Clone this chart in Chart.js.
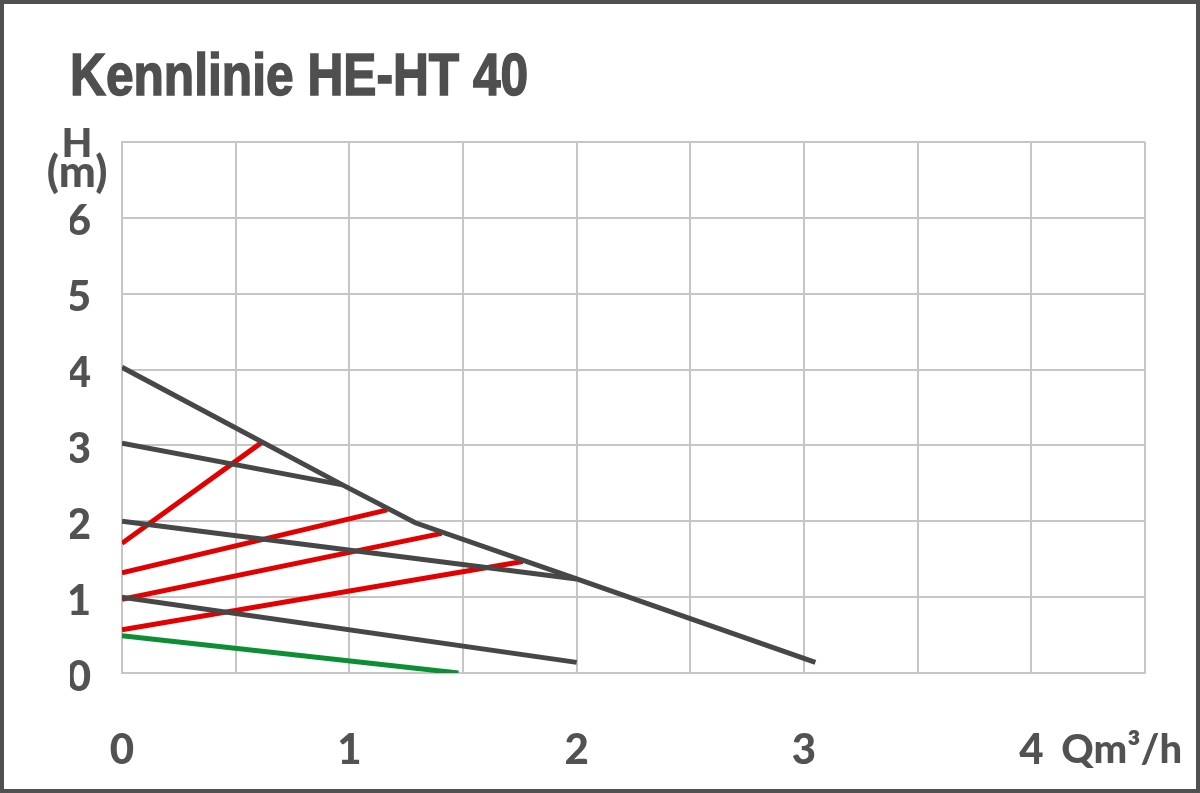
<!DOCTYPE html>
<html>
<head>
<meta charset="utf-8">
<title>Kennlinie HE-HT 40</title>
<script src="https://cdn.jsdelivr.net/npm/chart.js@4.4.1/dist/chart.umd.min.js"></script>
<style>
  html, body { margin: 0; padding: 0; background: #fff; }
  #wrap { position: relative; width: 1200px; height: 793px; overflow: hidden; }
  #title {
    position: absolute; left: 70px; top: 45px;
    font: bold 60px "Liberation Sans", Arial, sans-serif;
    line-height: 60px; color: #4f4f4f; white-space: nowrap;
    -webkit-text-stroke: 1.6px #4f4f4f;
    transform: scaleX(0.828); transform-origin: left top;
  }
  #frame {
    position: absolute; left: 0; top: 0; width: 1200px; height: 793px;
    box-sizing: border-box; border: 4px solid #505050; pointer-events: none;
  }
</style>
</head>
<body>
<div id="wrap">
  <canvas id="myChart" width="1200" height="793"></canvas>
  <div id="title">Kennlinie HE-HT 40</div>
  <div id="frame"></div>
</div>
<script>
// Q in m3/h, H in m
var qMax = [0, 0.97, 1.29, 2.0, 3.05];
var hMax = [4.03, 2.48, 1.98, 1.24, 0.14];

var qStep3 = [0, 0.97];
var hStep3 = [3.03, 2.48];

var qStep2 = [0, 2.0];
var hStep2 = [2.0, 1.24];

var qStep1 = [0, 2.0];
var hStep1 = [1.0, 0.14];

var qMin = [0, 1.48];
var hMin = [0.49, 0.0];

var qRedA = [0, 0.615];
var hRedA = [1.71, 3.04];
var qRedB = [0, 1.167];
var hRedB = [1.32, 2.15];
var qRedC = [0, 1.406];
var hRedC = [0.97, 1.84];
var qRedD = [0, 1.763];
var hRedD = [0.57, 1.47];

var xTicks = [0, 1, 2, 3, 4];
var yTicks = [0, 1, 2, 3, 4, 5, 6];
var yUnit = ['H', '(m)'];
var xUnit = 'Qm³/h';

function points(q, h) {
  var a = [];
  for (var i = 0; i < q.length; i++) {
    a.push({x: q[i], y: h[i]});
  }
  return a;
}

var GRAY = '#474747';
var RED = '#e30000';
var GREEN = '#0b8f32';
var TXT = '#525252';
var tickFont = {family: 'Lato', size: 42, weight: '900'};

function line(q, h, color) {
  return {
    data: points(q, h),
    borderColor: color,
    backgroundColor: color,
    borderWidth: 5,
    pointRadius: 0,
    tension: 0,
    fill: false
  };
}

// draws the unit labels next to the axes
var unitLabels = {
  id: 'unitLabels',
  afterDraw: function(chart) {
    var ctx = chart.ctx;
    var x = chart.scales.x, y = chart.scales.y;
    ctx.save();
    ctx.fillStyle = TXT;
    ctx.textAlign = 'center';
    ctx.textBaseline = 'middle';
    var py = y.getPixelForValue(7);
    ctx.font = '900 40px Lato';
    ctx.fillText(yUnit[0], 77, py + 2);
    ctx.font = '900 44px Lato';
    ctx.fillText(yUnit[1], 77, py + 31);
    ctx.font = '900 40px Lato';
    ctx.textAlign = 'left';
    ctx.fillText(xUnit, x.getPixelForValue(4) + 30, chart.chartArea.bottom + 77);
    ctx.restore();
  }
};

var ctx = document.getElementById('myChart').getContext('2d');
var chart = new Chart(ctx, {
  type: 'line',
  data: {
    datasets: [
      line(qMax, hMax, GRAY),
      line(qStep3, hStep3, GRAY),
      line(qStep2, hStep2, GRAY),
      line(qStep1, hStep1, GRAY),
      line(qMin, hMin, GREEN),
      line(qRedA, hRedA, RED),
      line(qRedB, hRedB, RED),
      line(qRedC, hRedC, RED),
      line(qRedD, hRedD, RED)
    ]
  },
  options: {
    responsive: false,
    animation: false,
    events: [],
    layout: {padding: {left: 70, top: 142, right: 55, bottom: 0}},
    scales: {
      x: {
        type: 'linear',
        min: 0,
        max: 4.5,
        afterFit: function(s) { s.height = 120; },
        grid: {color: '#c6c6c6', lineWidth: 2, drawTicks: false},
        border: {color: '#c6c6c6', width: 2},
        ticks: {
          stepSize: 0.5,
          autoSkip: false,
          maxRotation: 0,
          padding: 52,
          color: TXT,
          font: tickFont,
          callback: function(value) {
            return xTicks.indexOf(value) >= 0 ? String(value) : '';
          }
        }
      },
      y: {
        type: 'linear',
        min: 0,
        max: 7,
        afterFit: function(s) { s.width = 52; },
        grid: {color: '#c6c6c6', lineWidth: 2, drawTicks: false},
        border: {color: '#c6c6c6', width: 2},
        ticks: {
          stepSize: 1,
          padding: 31,
          labelOffset: 4,
          color: TXT,
          font: tickFont,
          callback: function(value) {
            return yTicks.indexOf(value) >= 0 ? String(value) : '';
          }
        }
      }
    },
    plugins: {
      legend: {display: false},
      tooltip: {enabled: false}
    }
  },
  plugins: [unitLabels]
});
</script>
</body>
</html>
